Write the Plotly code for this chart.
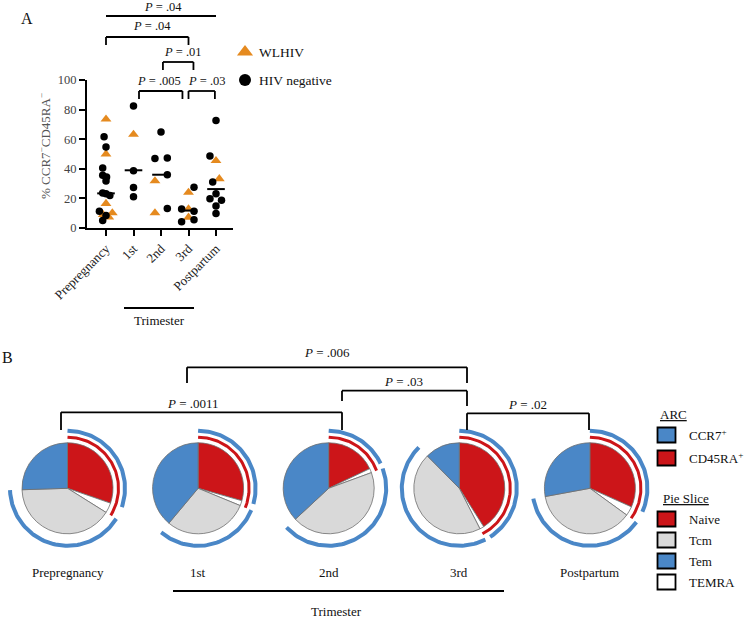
import math
import plotly.graph_objects as go

W, H = 745, 620
FONT = "Liberation Serif"

# ---------------- data ----------------
categories = ["Prepregnancy", "1st", "2nd", "3rd", "Postpartum"]

# Panel A - women living with HIV (triangles)
wlhiv_cat = [0, 0, 0, 0, 0, 0, 1, 2, 2, 3, 3, 3, 4, 4]
wlhiv_pct = [73.5, 50.0, 16.5, 10.2, 9.0, 7.3, 63.2, 31.8, 10.2, 24.0, 12.9, 7.2, 45.5, 33.2]
wlhiv_jit = [0, 0, 0, 0.23, -0.1, 0.1, 0, -0.22, -0.22, 0, 0, 0, 0, 0.12]

# Panel A - HIV negative (circles)
neg_cat = [0] * 12 + [1] * 4 + [2] * 5 + [3] * 5 + [4] * 8
neg_pct = [61.6, 54.8, 40.5, 35.7, 34.5, 31.8, 23.6, 23.2, 22.0, 11.4, 8.4, 5.0,
           82.5, 38.6, 27.3, 21.1,
           64.8, 47.0, 47.3, 35.9, 13.2,
           27.5, 12.9, 11.3, 5.6, 4.3,
           72.7, 48.6, 31.1, 23.2, 19.8, 18.8, 14.8, 9.8]
neg_jit = [-0.07, 0, -0.12, -0.12, 0.02, 0, -0.12, 0, 0.14, -0.24, 0, -0.12,
           0, 0, 0, 0,
           0, -0.22, 0.23, 0.23, 0.23,
           0.2, -0.25, 0.2, 0.2, -0.25,
           0, -0.22, -0.12, 0, -0.22, 0.2, 0, 0]
medians = [23.4, 39.0, 36.0, 11.8, 26.3]
y_ticks = [0, 20, 40, 60, 80, 100]

# Panel A significance brackets: (from cat, to cat, label)
a_pairs = [(0, 4, "= .04"), (0, 3, "= .04"), (2.07, 3.18, "= .01"),
           (1.2, 2.78, "= .005"), (3.0, 3.96, "= .03")]

# Panel B - pie slices (% of CD4 T cells)
slice_names = ["Naive", "TEMRA", "Tcm", "Tem"]
naive = [30.3, 29.4, 17.9, 41.0, 31.7]
temra = [3.6, 1.8, 1.5, 1.5, 3.3]
tcm = [40.6, 29.9, 43.7, 45.1, 37.1]
tem = [25.5, 38.9, 36.9, 12.4, 27.9]
b_pvalues = ["= .0011", "= .006", "= .03", "= .02"]

# ---------------- styles / layout geometry ----------------
RED = "#cc1519"
BLUE = "#4a87c7"
GRAY = "#d9d9d9"
ORANGE = "#e58a1f"
slice_colors = [RED, "#ffffff", GRAY, BLUE]

A_X0, A_DX = 106.0, 27.5
A_LEFT, A_RIGHT, A_TOP, A_BOT = 87.0, 233.0, 80.0, 228.0

PIE_CX0, PIE_DX, PIE_CY, PIE_R = 67.5, 130.6, 488.3, 45.5
R_RED, R_BLUE = 51.0, 57.5


def apx(c):
    return A_X0 + c * A_DX


fig = go.Figure()

# ---- Panel A scatter ----
fig.add_trace(go.Scatter(
    x=[c + j for c, j in zip(wlhiv_cat, wlhiv_jit)], y=wlhiv_pct, mode="markers",
    marker=dict(symbol="triangle-up", size=9.5, color=ORANGE), cliponaxis=False,
    showlegend=False, hoverinfo="skip"))
fig.add_trace(go.Scatter(
    x=[c + j for c, j in zip(neg_cat, neg_jit)], y=neg_pct, mode="markers",
    marker=dict(symbol="circle", size=7.5, color="black"), cliponaxis=False,
    showlegend=False, hoverinfo="skip"))
mx, my = [], []
for i, m in enumerate(medians):
    mx += [i - 0.32, i + 0.32, None]
    my += [m, m, None]
fig.add_trace(go.Scatter(x=mx, y=my, mode="lines", line=dict(color="black", width=2),
                         showlegend=False, hoverinfo="skip", cliponaxis=False))

# ---- Panel B pies ----
vals_by_pie = list(zip(naive, temra, tcm, tem))
for i, (n, t, c, e) in enumerate(vals_by_pie):
    cx = PIE_CX0 + i * PIE_DX
    fig.add_trace(go.Pie(
        values=[n, t, c, e], labels=slice_names, sort=False, direction="clockwise",
        rotation=0, textinfo="none", hoverinfo="skip", showlegend=False,
        automargin=False,
        marker=dict(colors=slice_colors, line=dict(color="#6f6f6f", width=0.8)),
        domain=dict(x=[(cx - PIE_R) / W, (cx + PIE_R) / W],
                    y=[1 - (PIE_CY + PIE_R) / H, 1 - (PIE_CY - PIE_R) / H])))


def arc(cx, cy, r, a0, a1):
    xs, ys = [], []
    n = max(8, int(abs(a1 - a0) / 2))
    for k in range(n + 1):
        a = math.radians(a0 + (a1 - a0) * k / n)
        xs.append(cx + r * math.sin(a))
        ys.append(cy - r * math.cos(a))
    return xs, ys


bx, by, rx, ry = [], [], [], []
for i, (n, t, c, e) in enumerate(vals_by_pie):
    cx = PIE_CX0 + i * PIE_DX
    tot = n + t + c + e
    a_n = 360 * n / tot
    a_t = 360 * (n + t) / tot
    a_c = 360 * (n + t + c) / tot
    for a0, a1 in [(0, a_n), (a_t, a_c)]:
        xs, ys = arc(cx, PIE_CY, R_BLUE, a0, a1)
        bx += xs + [None]
        by += ys + [None]
    xs, ys = arc(cx, PIE_CY, R_RED, 0, a_t)
    rx += xs + [None]
    ry += ys + [None]
fig.add_trace(go.Scatter(x=bx, y=by, mode="lines", line=dict(color=BLUE, width=4),
                         xaxis="x2", yaxis="y2", showlegend=False, hoverinfo="skip"))
fig.add_trace(go.Scatter(x=rx, y=ry, mode="lines", line=dict(color=RED, width=3),
                         xaxis="x2", yaxis="y2", showlegend=False, hoverinfo="skip"))

# ---- Panel A legend markers (pixel overlay) ----
fig.add_trace(go.Scatter(x=[245], y=[52], mode="markers", xaxis="x2", yaxis="y2",
                         marker=dict(symbol="triangle-up", size=14, color=ORANGE),
                         showlegend=False, hoverinfo="skip"))
fig.add_trace(go.Scatter(x=[245], y=[80], mode="markers", xaxis="x2", yaxis="y2",
                         marker=dict(symbol="circle", size=12, color="black"),
                         showlegend=False, hoverinfo="skip"))

shapes = []
ann = []


def line(x0, y0, x1, y1, w=1.8):
    shapes.append(dict(type="line", xref="x2", yref="y2", x0=x0, y0=y0, x1=x1, y1=y1,
                       line=dict(color="black", width=w)))


def text(x, y, s, size=13, xanchor="center", color="#111", angle=0):
    ann.append(dict(x=x, y=y, xref="x2", yref="y2", text=s, showarrow=False,
                    xanchor=xanchor, yanchor="middle", textangle=angle,
                    font=dict(family=FONT, size=size, color=color)))


# Panel A brackets
a_geom = [(16, None, 163, 7), (37, 45, 152, 26), (62, 70, 183, 52),
          (91, 99, 159, 81), (91, 99, 207, 81)]
for (c0, c1, lab), (yl, yt, tx, ty) in zip(a_pairs, a_geom):
    x0, x1 = apx(c0), apx(c1)
    line(x0, yl, x1, yl)
    if yt is not None:
        line(x0, yl, x0, yt)
        line(x1, yl, x1, yt)
    text(tx, ty, "<i>P</i> " + lab, size=12.5)

text(27, 18, "A", size=16)
text(257, 52, "WLHIV", size=13.5, xanchor="left")
text(257, 80, "HIV negative", size=13.5, xanchor="left")
text(45, 146, "% CCR7<sup>−</sup>CD45RA<sup>−</sup>", size=13, color="#555", angle=-90)
line(124, 308, 194, 308, 2)
text(159, 320, "Trimester", size=13)

# Panel B
text(7, 357, "B", size=16)
b_geom = [(61, 342, 412.3, 430, 430, 193, 403),
          (187, 467, 367.3, 383, 383, 327, 352),
          (342, 467, 390.7, 401, 406, 403, 381),
          (467, 589, 413.3, 430, 430, 527, 404)]
for lab, (x0, x1, yl, yt0, yt1, tx, ty) in zip(b_pvalues, b_geom):
    line(x0, yl, x1, yl)
    line(x0, yl, x0, yt0)
    line(x1, yl, x1, yt1)
    text(tx, ty, "<i>P</i> " + lab, size=13)

for i, name in enumerate(categories):
    text(PIE_CX0 + i * PIE_DX, 572, name, size=13)
line(173, 591, 504, 591, 2)
text(336, 611, "Trimester", size=13)

# Panel B legend
text(673, 414, "<u>ARC</u>", size=13)
text(686, 498, "<u>Pie Slice</u>", size=13)
leg_items = [(435, BLUE, "CCR7<sup>+</sup>"), (458, RED, "CD45RA<sup>+</sup>"),
             (519, RED, "Naive"), (540, GRAY, "Tcm"), (561, BLUE, "Tem"),
             (582, "#ffffff", "TEMRA")]
for yc, col, lab in leg_items:
    shapes.append(dict(type="rect", xref="x2", yref="y2", x0=657.5, x1=675.5,
                       y0=yc - 7.5, y1=yc + 7.5, fillcolor=col,
                       line=dict(color="black", width=1.8)))
    text(687, yc, lab, size=13, xanchor="left")

fig.update_layout(
    template="none",
    width=W, height=H, margin=dict(l=0, r=0, t=0, b=0, pad=0, autoexpand=False),
    paper_bgcolor="white", plot_bgcolor="rgba(0,0,0,0)",
    font=dict(family=FONT, color="#222"),
    shapes=shapes, annotations=ann,
    xaxis=dict(domain=[A_LEFT / W, A_RIGHT / W],
               range=[(A_LEFT - A_X0) / A_DX, (A_RIGHT - A_X0) / A_DX],
               tickvals=list(range(len(categories))), ticktext=categories,
               tickangle=-45, ticks="outside", ticklen=6, tickwidth=2,
               tickcolor="black", automargin=False,
               showline=True, linecolor="black", linewidth=2, showgrid=False,
               zeroline=False, tickfont=dict(family=FONT, size=13, color="#222"),
               fixedrange=True),
    yaxis=dict(domain=[1 - A_BOT / H, 1 - A_TOP / H], range=[0, 100],
               tickvals=y_ticks, ticks="outside", ticklen=6, tickwidth=2,
               tickcolor="black", automargin=False,
               showline=True, linecolor="black", linewidth=2, showgrid=False,
               zeroline=False, tickfont=dict(family=FONT, size=12.5, color="#444"),
               fixedrange=True),
    xaxis2=dict(domain=[0, 1], range=[0, W], visible=False, anchor="y2",
                automargin=False, fixedrange=True),
    yaxis2=dict(domain=[0, 1], range=[H, 0], visible=False, anchor="x2",
                automargin=False, fixedrange=True),
)

fig.write_html("out.html", config={"displayModeBar": False},
               post_script="document.body.style.margin='0';")
